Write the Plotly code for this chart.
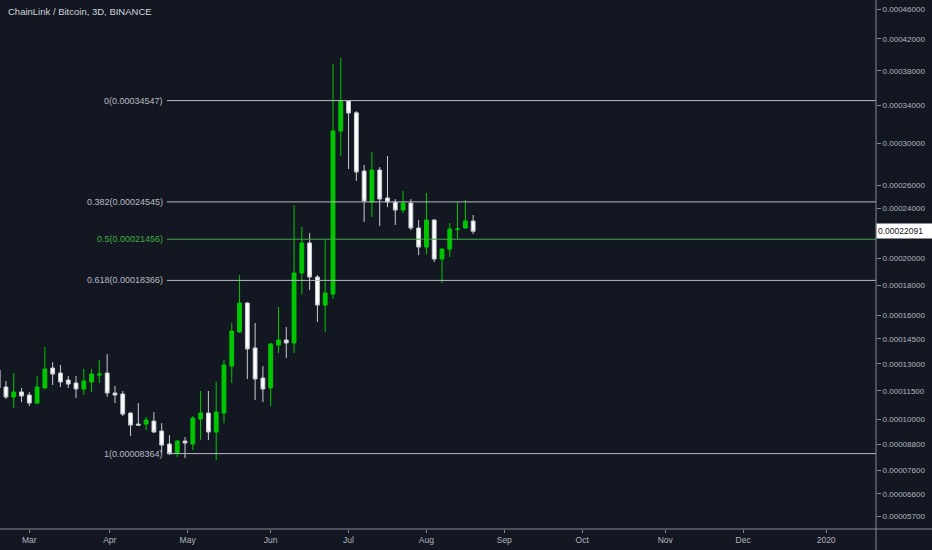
import numpy as np
import pandas as pd
import plotly.graph_objects as go

# LINK/BTC 3D candles, Binance
TITLE = "ChainLink / Bitcoin, 3D, BINANCE"
FIRST_BAR = "2019-02-16"

opens = [0.00012648, 0.00011706, 0.00011169, 0.00011436, 0.00011270, 0.00010847, 0.00011652, 0.00012762,
         0.00012479, 0.00012086, 0.00011924, 0.00011597, 0.00011979, 0.00012365, 0.00012479, 0.00011382,
         0.00011329, 0.00010330, 0.00009777, 0.00009777, 0.00009926, 0.00009434, 0.00008812, 0.00008387,
         0.00008954, 0.00008812, 0.00010026, 0.00010330, 0.00009385, 0.00010330, 0.00012876, 0.00014919,
         0.00016798, 0.00013941, 0.00012200, 0.00011652, 0.00014115, 0.00014420, 0.00014242, 0.00018895,
         0.00021161, 0.00018608, 0.00016663, 0.00017410, 0.00031277, 0.00034500, 0.00033200, 0.00027329,
         0.00024532, 0.00027422, 0.00024891, 0.00024532, 0.00023845, 0.00024446, 0.00022353, 0.00020842,
         0.00023006, 0.00019927, 0.00020688, 0.00022230, 0.00022353, 0.00022925]
highs = [0.00012933, 0.00012034, 0.00012479, 0.00011652, 0.00011436, 0.00012311, 0.00013994, 0.00013107,
         0.00012933, 0.00012311, 0.00012311, 0.00012706, 0.00012706, 0.00013223, 0.00013576, 0.00011760,
         0.00011489, 0.00010381, 0.00010847, 0.00010127, 0.00010381, 0.00009826, 0.00009237, 0.00008997,
         0.00009144, 0.00010177, 0.00011489, 0.00011489, 0.00011979, 0.00013223, 0.00015486, 0.00018748,
         0.00016865, 0.00015486, 0.00012876, 0.00014242, 0.00016530, 0.00015233, 0.00024273, 0.00022435,
         0.00021951, 0.00018748, 0.00021389, 0.00038834, 0.00039574, 0.00034612, 0.00033397, 0.00027894,
         0.00029152, 0.00027705, 0.00028761, 0.00024793, 0.00025499, 0.00024793, 0.00023006, 0.00025321,
         0.00023090, 0.00020730, 0.00022760, 0.00024532, 0.00024706, 0.00023423]
lows = [0.00011436, 0.00011063, 0.00010586, 0.00010899, 0.00010690, 0.00010794, 0.00011597, 0.00011811,
        0.00011706, 0.00011652, 0.00011116, 0.00011270, 0.00011436, 0.00011924, 0.00011169, 0.00010847,
        0.00010177, 0.00009192, 0.00009678, 0.00009480, 0.00009337, 0.00008387, 0.00008295, 0.00008203,
        0.00008158, 0.00008526, 0.00008997, 0.00008997, 0.00008067, 0.00009826, 0.00011924, 0.00014857,
        0.00012144, 0.00011004, 0.00010899, 0.00010690, 0.00013635, 0.00013340, 0.00013635, 0.00017410,
        0.00017686, 0.00015550, 0.00014919, 0.00017068, 0.00028761, 0.00027517, 0.00026408, 0.00022842,
        0.00023256, 0.00022516, 0.00024101, 0.00022594, 0.00023592, 0.00022188, 0.00020229, 0.00020305,
        0.00019702, 0.00018181, 0.00020078, 0.00021475, 0.00022300, 0.00021872]
closes = [0.00011652, 0.00011169, 0.00011436, 0.00011222, 0.00010847, 0.00011706, 0.00012706, 0.00012423,
          0.00011979, 0.00011869, 0.00011597, 0.00012034, 0.00012423, 0.00012423, 0.00011382, 0.00011270,
          0.00010279, 0.00009726, 0.00009726, 0.00009975, 0.00009385, 0.00008760, 0.00008364, 0.00008954,
          0.00008859, 0.00010076, 0.00010330, 0.00009385, 0.00010381, 0.00012933, 0.00014982, 0.00016798,
          0.00013882, 0.00012144, 0.00011597, 0.00014182, 0.00014420, 0.00014242, 0.00018895, 0.00021161,
          0.00018608, 0.00016663, 0.00017478, 0.00031277, 0.00034547, 0.00033180, 0.00027236, 0.00024619,
          0.00027422, 0.00024793, 0.00024532, 0.00023845, 0.00024446, 0.00022353, 0.00020842, 0.00023006,
          0.00019927, 0.00020688, 0.00022272, 0.00022272, 0.00022925, 0.00022091]

dates = pd.date_range(FIRST_BAR, periods=len(opens), freq="3D")

# fib retracement
fib_ratios = ["0", "0.382", "0.5", "0.618", "1"]
fib_prices = [0.00034547, 0.00024545, 0.00021456, 0.00018366, 0.00008364]
fib_start = "2019-04-22"

# axes
price_ticks = [0.00046, 0.00042, 0.00038, 0.00034, 0.00030, 0.00026, 0.00024, 0.00020, 0.00018,
               0.00016, 0.000145, 0.00013, 0.000115, 0.00010, 0.000088, 0.000076, 0.000066, 0.000057]
price_range = [0.00005197, 0.00047346]
# time scale labels sit on the first bar of each month
month_ticks = ["2019-02-28", "2019-03-31", "2019-04-30", "2019-06-01", "2019-07-01", "2019-07-31",
               "2019-08-30", "2019-09-29", "2019-10-31", "2019-11-30", "2020-01-01"]
month_labels = ["Mar", "Apr", "May", "Jun", "Jul", "Aug", "Sep", "Oct", "Nov", "Dec", "2020"]
date_range = ["2019-02-16 17:00", "2020-01-20 05:00"]

last_price = closes[-1]

# TradingView style log scale: log10(price + offset)
LOG_OFFSET = 0.0001


def tv_log(v):
    return np.log10(np.asarray(v, dtype=float) + LOG_OFFSET)


BG = "#131722"
TXT = "#b2b5be"
AXIS = "#868993"
UP = "#00c800"
FIB_GREY = "#b8bbc3"
FIB_GREEN = "#3faf3f"
FONT = "Liberation Sans, Arial, sans-serif"

fig = go.Figure(go.Candlestick(
    x=dates,
    open=tv_log(opens),
    high=tv_log(highs),
    low=tv_log(lows),
    close=tv_log(closes),
    increasing=dict(fillcolor=UP, line=dict(color=UP, width=1)),
    decreasing=dict(fillcolor="#ffffff", line=dict(color="#c9ccd3", width=1)),
    hoverinfo="skip",
))

# fib lines + labels
for ratio, price in zip(fib_ratios, fib_prices):
    col = FIB_GREEN if ratio == "0.5" else FIB_GREY
    fig.add_shape(type="line", xref="x", yref="y", x0=fib_start, x1=date_range[1],
                  y0=float(tv_log(price)), y1=float(tv_log(price)),
                  line=dict(color=col, width=1))
    fig.add_annotation(x=fib_start, y=float(tv_log(price)), xref="x", yref="y",
                       text=f"{ratio}({price:.8f})", showarrow=False,
                       xanchor="right", yanchor="middle", xshift=-2,
                       font=dict(family=FONT, size=9, color=col))

# price scale + time scale border lines
fig.add_shape(type="line", xref="paper", yref="paper", x0=0, x1=932 / 876, y0=0, y1=0,
              line=dict(color=AXIS, width=1))
fig.add_shape(type="line", xref="paper", yref="paper", x0=1, x1=1, y0=-21 / 529, y1=1,
              line=dict(color=AXIS, width=1))

# last price label
fig.add_annotation(x=1, xref="paper", y=float(tv_log(last_price)), yref="y",
                   text=f"{last_price:.8f}", showarrow=False, xanchor="left", yanchor="middle",
                   bgcolor="#ffffff", width=53, height=12, align="left", borderpad=1,
                   font=dict(family=FONT, size=8.5, color="#131722"))

# title
fig.add_annotation(x=6 / 876, y=1 - 12 / 529, xref="paper", yref="paper", text=TITLE,
                   showarrow=False, xanchor="left", yanchor="middle",
                   font=dict(family=FONT, size=9.5, color="#d1d4dc"))

fig.update_layout(
    width=932, height=550,
    margin=dict(l=0, r=56, t=0, b=21),
    paper_bgcolor=BG, plot_bgcolor=BG,
    showlegend=False,
    xaxis=dict(type="date", range=date_range, rangeslider=dict(visible=False),
               tickvals=month_ticks, ticktext=month_labels, showgrid=False, zeroline=False,
               ticks="outside", ticklen=3, tickcolor=AXIS,
               tickfont=dict(family=FONT, size=8.5, color=TXT)),
    yaxis=dict(side="right", range=list(tv_log(price_range)),
               tickvals=list(tv_log(price_ticks)), ticktext=[f"{t:.8f}" for t in price_ticks],
               showgrid=False, zeroline=False, ticks="outside", ticklen=4, tickcolor=AXIS,
               tickfont=dict(family=FONT, size=8, color=TXT)),
)

fig.write_html("out.html", config={"displayModeBar": False},
               post_script="document.body.style.margin='0';")
